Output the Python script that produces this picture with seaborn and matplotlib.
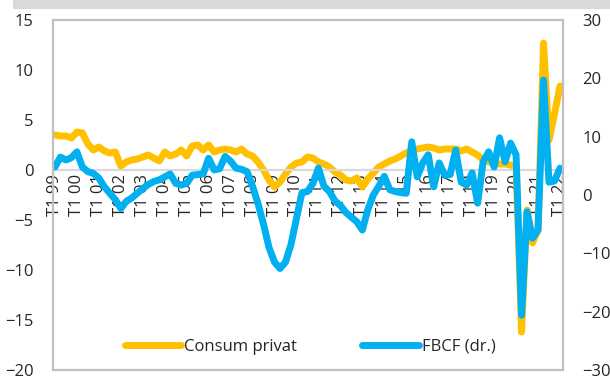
import matplotlib
matplotlib.use("Agg")
import matplotlib.pyplot as plt
from matplotlib.patches import Rectangle
from matplotlib.lines import Line2D
import seaborn as sns
import numpy as np

# Quarterly series, T1 1999 .. T1 2022
years = [f"{y:02d}" for y in list(range(99, 100)) + list(range(0, 23))]
tick_labels = [f"T1 {y}" for y in years]

consum_privat = [
    3.5, 3.4, 3.4, 3.2, 3.8, 3.7, 2.6, 2.0, 2.3, 1.9,
    1.7, 1.8, 0.4, 0.8, 1.0, 1.1, 1.3, 1.5, 1.2, 0.9,
    1.8, 1.4, 1.6, 2.0, 1.4, 2.4, 2.5, 2.0, 2.5, 1.8,
    2.0, 2.1, 2.0, 1.8, 2.1, 1.6, 1.4, 0.8, 0.0, -1.0,
    -1.7, -1.2, -0.4, 0.3, 0.7, 0.8, 1.3, 1.2, 0.8, 0.6,
    0.3, -0.2, -0.5, -1.0, -1.1, -0.8, -1.7, -0.9, -0.3, 0.3,
    0.6, 0.9, 1.1, 1.4, 1.7, 2.0, 2.1, 2.2, 2.3, 2.2,
    2.0, 2.1, 2.1, 2.1, 1.9, 2.1, 1.8, 1.5, 1.0, 0.8,
    0.7, 0.6, 0.6, 0.5, 0.3, -16.2, -4.0, -7.3, -6.0, 12.7,
    3.0, 5.6, 8.4,
]

fbcf = [
    4.8, 6.5, 6.0, 6.4, 7.4, 4.8, 4.0, 3.7, 2.9, 1.4,
    0.3, -0.8, -2.3, -1.1, -0.5, 0.3, 1.1, 1.8, 2.3, 2.6,
    3.1, 3.6, 2.0, 1.7, 2.0, 3.4, 3.5, 3.6, 6.3, 4.3,
    4.5, 6.6, 5.8, 4.6, 4.4, 4.0, 1.5, -1.5, -5.0, -9.0,
    -11.5, -12.6, -11.5, -8.5, -4.0, 0.4, 0.6, 2.0, 4.6, 1.5,
    0.6, -1.0, -1.8, -3.0, -3.8, -4.6, -6.0, -2.5, 0.0, 1.5,
    3.2, 0.9, 0.6, 0.4, 0.3, 9.1, 3.1, 5.5, 6.9, 1.4,
    5.5, 3.4, 3.5, 7.7, 2.2, 1.7, 3.8, -1.4, 5.7, 7.4,
    4.8, 9.8, 5.7, 8.9, 6.9, -20.6, -2.9, -7.4, -6.0, 19.7,
    2.2, 2.4, 4.6,
]

quarters = np.arange(len(consum_privat))
tick_pos = np.arange(0, len(consum_privat), 4)

ORANGE = "#FFC000"
BLUE = "#00B0F0"
GRID = "#D9D9D9"
FRAME = "#BFBFBF"
TEXT = "#262626"
FS = 12

sns.set_theme(style="white")
plt.rcParams["font.family"] = ["Open Sans", "DejaVu Sans"]
plt.rcParams["font.size"] = FS

fig = plt.figure(figsize=(6.10, 3.76), dpi=100)
ax = fig.add_axes([53 / 610, 6 / 376, 510 / 610, 350 / 376])
ax2 = ax.twinx()

# grey strip along the top edge
fig.patches.append(Rectangle((13 / 610, 367 / 376), 597 / 610, 9 / 376,
                             transform=fig.transFigure, facecolor=GRID,
                             edgecolor="none", zorder=0))
# plot-area border
fig.patches.append(Rectangle((53 / 610, 6 / 376), 510 / 610, 350 / 376,
                             transform=fig.transFigure, fill=False,
                             edgecolor=FRAME, linewidth=1.6, zorder=0))

sns.lineplot(x=quarters, y=consum_privat, ax=ax, color=ORANGE, linewidth=5,
             solid_capstyle="round", solid_joinstyle="round", legend=False)
sns.lineplot(x=quarters, y=fbcf, ax=ax2, color=BLUE, linewidth=5,
             solid_capstyle="round", solid_joinstyle="round", legend=False)

for a in (ax, ax2):
    for s in a.spines.values():
        s.set_visible(False)
    a.set_xlabel("")
    a.set_ylabel("")
    a.set_xlim(-0.35, 92.55)
    a.patch.set_visible(False)

# zero line of the left axis carries the category labels
ax.spines["bottom"].set_visible(True)
ax.spines["bottom"].set_position(("data", 0))
ax.spines["bottom"].set_color(GRID)
ax.spines["bottom"].set_linewidth(1.6)

ax.set_ylim(-20, 15)
ax2.set_ylim(-30, 30)
ax.set_yticks(range(-20, 16, 5))
ax2.set_yticks(range(-30, 31, 10))
ax.set_xticks(tick_pos)
ax.set_xticklabels(tick_labels)

ax.tick_params(axis="x", length=0, pad=3, labelsize=FS, labelrotation=90,
               labelcolor=TEXT)
ax.tick_params(axis="y", length=0, pad=14, labelsize=FS, labelcolor=TEXT)
ax2.tick_params(axis="y", length=0, pad=14, labelsize=FS, labelcolor=TEXT)

handles = [Line2D([], [], color=ORANGE, linewidth=5, solid_capstyle="round"),
           Line2D([], [], color=BLUE, linewidth=5, solid_capstyle="round")]
ax2.legend(handles, ["Consum privat", "FBCF (dr.)"], loc="center",
           bbox_to_anchor=(0.504, 0.066), ncol=2, frameon=False,
           handlelength=3.4, handletextpad=0.18, columnspacing=3.9,
           fontsize=FS, labelcolor=TEXT)

fig.savefig("out.png", dpi=100)
